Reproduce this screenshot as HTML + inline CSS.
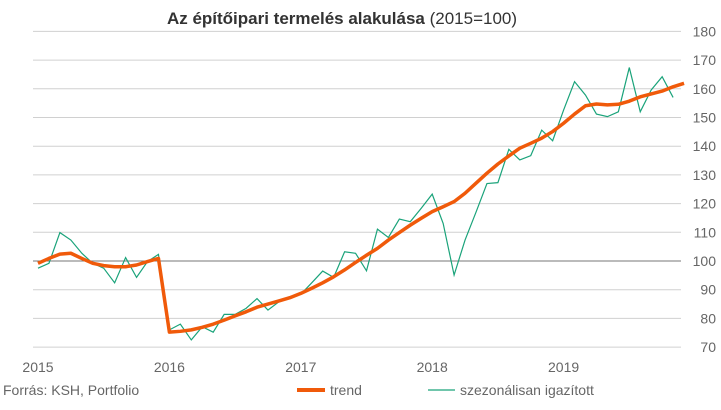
<!DOCTYPE html>
<html><head><meta charset="utf-8"><style>
body{margin:0;background:#fff;font-family:"Liberation Sans",sans-serif}
svg text{font-family:"Liberation Sans",sans-serif}
</style></head><body>
<svg width="721" height="405" id="c">
<text x="342" y="24" text-anchor="middle" font-size="17" fill="#333"><tspan font-weight="bold">Az építőipari termelés alakulása</tspan> (2015=100)</text>
<g id="grid"></g><g id="ylab"></g><g id="xlab"></g><g id="series"></g>
<text x="3" y="395" font-size="14" fill="#666">Forrás: KSH, Portfolio</text>
<line x1="297" y1="390" x2="325" y2="390" stroke="#f05a0a" stroke-width="4"/>
<text x="330" y="395" font-size="14" fill="#666">trend</text>
<line x1="428" y1="390" x2="455" y2="390" stroke="#1aa37a" stroke-width="1.2"/>
<text x="460" y="395" font-size="14" fill="#666">szezonálisan igazított</text>
</svg>
<script>
const yTicks=[70,80,90,100,110,120,130,140,150,160,170,180];
const yearLabels=["2015","2016","2017","2018","2019"];
const seasonal=[97.5,99.2,109.9,107.3,102.7,99.2,97.5,92.4,101.2,94.3,99.8,102.3,
76,78,72.5,77.1,75.2,81.4,81.4,83.5,86.9,82.9,85.8,87.6,
88.4,92.4,96.5,94.3,103.2,102.7,96.6,111.1,108.2,114.6,113.7,118.4,
123.3,113.1,95.1,107.3,117,127,127.3,138.9,135.2,136.7,145.6,141.9,
152.6,162.5,157.8,151.2,150.3,152,167.4,152,159.6,164.2,157];
const trend=[99.2,100.9,102.4,102.7,100.9,99.2,98.4,98,98,98.6,99.8,100.9,
75.2,75.5,76,76.9,78,79.4,80.9,82.3,83.9,85,86.1,87.2,
88.7,90.5,92.4,94.5,96.9,99.5,102,104.4,107.3,109.9,112.5,114.9,
117.2,118.9,120.7,123.6,127.1,130.6,133.8,136.6,139.3,141,142.8,145.1,
148,151.2,154.1,154.7,154.4,154.6,155.7,157.2,158.2,159.2,160.7,161.9];
const NS="http://www.w3.org/2000/svg";
const X=i=>38+i*10.95;
const Y=v=>261-(v-100)*2.87;
function mk(tag,attrs,parent){const e=document.createElementNS(NS,tag);for(const k in attrs)e.setAttribute(k,attrs[k]);document.getElementById(parent).appendChild(e);return e;}
yTicks.forEach(v=>{
 const l=mk('line',{x1:33,x2:681,y1:Y(v),y2:Y(v),stroke:v===100?'#777':'#d0d0d0','stroke-width':1},'grid');
 
 
 const t=mk('text',{x:716,y:Y(v)+5,'text-anchor':'end','font-size':14,fill:'#666'},'ylab');
 t.textContent=v;
 
 
});
yearLabels.forEach((s,k)=>{
 const t=mk('text',{x:X(k*12),y:372,'text-anchor':'middle','font-size':14,fill:'#666'},'xlab');
 t.textContent=s;
 
 
});
const p1=mk('polyline',{points:seasonal.map((v,i)=>X(i)+','+Y(v)).join(' '),fill:'none',stroke:'#1aa37a','stroke-width':1.2},'series');


const p2=mk('polyline',{points:trend.map((v,i)=>X(i)+','+Y(v)).join(' '),fill:'none',stroke:'#f05a0a','stroke-width':3.5,'stroke-linejoin':'round'},'series');


</script>
</body></html>
